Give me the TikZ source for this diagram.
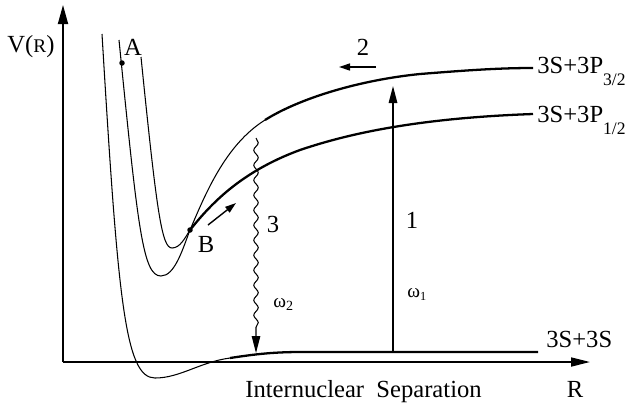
\documentclass[tikz,border=0pt]{standalone}
\usepackage{fontspec}
\setmainfont{Liberation Serif}
\usetikzlibrary{arrows.meta,decorations.pathmorphing}
\newcommand{\lowsub}[3]{\raisebox{-#1}{\fontsize{#2}{#2}\selectfont #3}}

\begin{document}
\begin{tikzpicture}[x=0.02cm,y=-0.02cm,>={Triangle[length=3.4mm,width=1.7mm]},
  wall/.style={line width=0.6pt},tail/.style={line width=1.3pt},
  lbl/.style={font=\fontsize{14}{16}\selectfont,inner sep=0pt},
  freq/.style={font=\fontsize{11}{12}\selectfont,inner sep=0pt},
  smalltip/.style={-{Triangle[length=2.2mm,width=1.4mm]}},
  dot/.style={circle,fill,inner sep=0pt,minimum size=1.1mm}]
  \useasboundingbox (0,0) rectangle (634,407);
  % axes
  \coordinate (o) at (63,362);
  \coordinate (ytop) at (63,5);
  \coordinate (xend) at (590,362);
  \draw[line width=1pt,-{Triangle[length=3.8mm,width=2mm]}] (o) -- (ytop);
  \draw[line width=1pt,-{Triangle[length=3.8mm,width=1.8mm]}] (o) -- (xend);
  \node[lbl,anchor=base] (vr) at (31,52) {V({\fontsize{11}{12}\selectfont R})};
  \node[lbl,anchor=base west] (sep) at (245,397) {Internuclear\ \ Separation};
  \node[lbl,anchor=base] (r) at (575,397) {R};
  % ground state 3S+3S
  \draw[wall] (102,34) .. controls (118,300) and (125,378) .. (155,378)
    .. controls (180,378) and (200,362) .. (230,358) coordinate (g1);
  \draw[tail] (g1) .. controls (250,355) and (270,352) .. (300,352) -- (538,352) coordinate (g2);
  % 3S+3P3/2
  \draw[wall] (119,40) .. controls (138,230) and (143,276) .. (161,276)
    .. controls (175,276) and (183,248) .. (190,230) coordinate (cross)
    .. controls (205,195) and (225,145) .. (265,120) coordinate (u1);
  \draw[tail] (u1) .. controls (300,98) and (360,80) .. (420,74)
    .. controls (470,70) and (500,68) .. (533,68) coordinate (u2);
  % 3S+3P1/2
  \draw[wall] (141,57) .. controls (157,215) and (162,248) .. (172,248)
    .. controls (180,248) and (185,238) .. (cross);
  \draw[tail] (cross) .. controls (210,205) and (240,172) .. (300,150)
    .. controls (350,133) and (420,118) .. (533,114) coordinate (l2);
  % points A and B
  \node[dot] (pa) at (122,63) {};
  \node[dot] (pb) at (cross) {};
  \node[lbl,anchor=base] (la) at (133,55) {A};
  \node[lbl,anchor=base] (lb) at (206,252) {B};
  \coordinate (b0) at (208,225);
  \coordinate (b1) at (236,203);
  \draw[line width=0.8pt,smalltip] (b0) -- (b1);
  % level labels
  \node[lbl,anchor=base west] (p32) at (537,73) {3S+3P\lowsub{7pt}{10}{3/2}};
  \node[lbl,anchor=base west] (p12) at (537,122) {3S+3P\lowsub{7pt}{10}{1/2}};
  \node[lbl,anchor=base west] (ss) at (546,347) {3S+3S};
  % process 1
  \coordinate (e0) at (393,352);
  \coordinate (e1) at (393,86);
  \draw[line width=0.8pt,->] (e0) -- (e1);
  \node[lbl,anchor=base] (n1) at (412,228) {1};
  \node[freq,anchor=base west] (w1) at (407,297) {ω\lowsub{2pt}{7}{1}};
  % process 2
  \coordinate (m0) at (376,67);
  \coordinate (m1) at (339,67);
  \draw[line width=0.8pt,smalltip] (m0) -- (m1);
  \node[lbl,anchor=base] (n2) at (363,55) {2};
  % process 3
  \coordinate (s0) at (256,138);
  \coordinate (s1) at (256,353);
  \draw[line width=0.6pt,->,decorate,decoration={snake,amplitude=0.45mm,segment length=3mm,post length=4mm}] (s0) -- (s1);
  \node[lbl,anchor=base] (n3) at (273,232) {3};
  \node[freq,anchor=base west] (w2) at (273,307) {ω\lowsub{2pt}{8}{2}};
\end{tikzpicture}
\end{document}
